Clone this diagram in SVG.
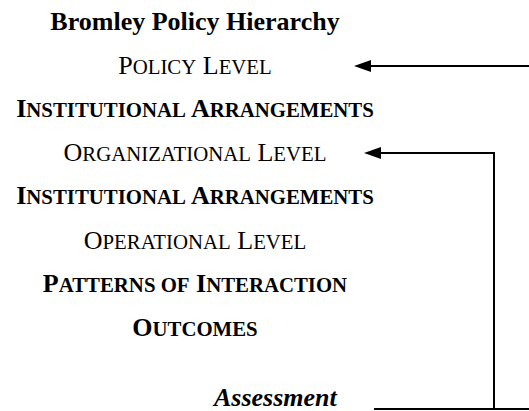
<svg xmlns="http://www.w3.org/2000/svg" width="529" height="411" viewBox="0 0 529 411">
  <style>
    text { font-family: "Liberation Serif", "Times New Roman", serif; font-size: 26px; fill: #000; text-anchor: middle; }
    .b { font-weight: bold; }
    .s { font-size: 20.8px; }
    .bi { font-weight: bold; font-style: italic; text-anchor: start; }
    .conn { stroke: #000; stroke-width: 2; fill: none; }
    .head { fill: #000; stroke: none; }
  </style>
  <rect width="529" height="411" fill="#fff"/>
  <g id="title"><text class="b" x="195" y="30">Bromley Policy Hierarchy</text></g>
  <g id="policy-level"><text x="195" y="74">P<tspan class="s">OLICY</tspan> L<tspan class="s">EVEL</tspan></text></g>
  <g id="institutional-1"><text class="b" x="195" y="117">I<tspan class="s">NSTITUTIONAL</tspan> A<tspan class="s">RRANGEMENTS</tspan></text></g>
  <g id="organizational-level"><text x="195" y="161">O<tspan class="s">RGANIZATIONAL</tspan> L<tspan class="s">EVEL</tspan></text></g>
  <g id="institutional-2"><text class="b" x="195" y="204">I<tspan class="s">NSTITUTIONAL</tspan> A<tspan class="s">RRANGEMENTS</tspan></text></g>
  <g id="operational-level"><text x="195" y="249">O<tspan class="s">PERATIONAL</tspan> L<tspan class="s">EVEL</tspan></text></g>
  <g id="patterns"><text class="b" x="195" y="292">P<tspan class="s">ATTERNS OF</tspan> I<tspan class="s">NTERACTION</tspan></text></g>
  <g id="outcomes"><text class="b" x="195" y="336">O<tspan class="s">UTCOMES</tspan></text></g>
  <g id="assessment"><text class="bi" x="214" y="406">Assessment</text></g>
  <g id="connectors">
    <line class="conn" x1="529" y1="66" x2="368" y2="66"/>
    <polygon class="head" points="354,66 371,60 371,72"/>
    <polyline class="conn" points="374,409 494,409 494,153 378,153"/>
    <line class="conn" x1="494" y1="409" x2="529" y2="409"/>
    <polygon class="head" points="364,153 381,147 381,159"/>
  </g>
</svg>
